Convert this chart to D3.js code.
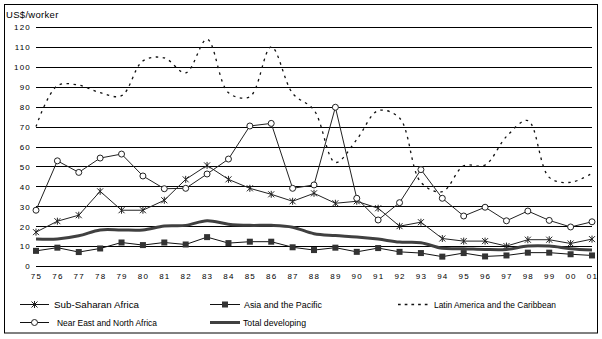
<!DOCTYPE html>
<html>
<head>
<meta charset="utf-8">
<script src="https://cdn.jsdelivr.net/npm/d3@7"></script>
<style>
  html, body { margin: 0; padding: 0; background: #fff; }
  svg { display: block; }
  text { font-family: "Liberation Sans", Arial, sans-serif; fill: #000; }
</style>
</head>
<body>
<svg id="chart" width="602" height="339"></svg>
<script>
// ---- data ----
const years = ["75","76","77","78","79","80","81","82","83","84","85","86","87","88","89","90","91","92","93","94","95","96","97","98","99","00","01"];
const subSaharan = [17,22.5,25.5,37.5,28,28,33,43.5,50.5,43.5,39,36,32.5,36.5,31.5,32.5,29,20,22,13.8,12.5,12.5,10,13.2,13.2,11.3,13.5];
const asiaPacific = [7.6,9.2,7,8.8,11.8,10.5,11.8,10.8,14.5,11.5,12.2,12.2,9.4,8,9.2,7.1,9,7.1,6.5,4.7,6.5,4.8,5.3,6.7,6.7,5.9,5.3];
const latinAmerica = [70,90.5,90.8,87,85.5,103,104.5,97,113.8,87,85,110,86.7,78.3,52,63.5,78,74.3,42,37.3,50.3,50.7,65,73,44.5,42,46.5];
const nearEast = [28,52.8,47,54.2,56.2,45.2,38.8,39,46.2,53.7,70.3,71.6,39,40.7,79.7,34,23.1,31.8,48.4,34,25.1,29.5,22.7,27.6,22.9,19.6,22.2];
const totalDev = [13.6,13.6,15.2,18.1,18.1,18.1,20.1,20.4,22.7,21,20.4,20.4,19.5,16.2,15.3,14.6,13.5,12,11.7,8.9,8.7,8.3,8.3,10,10,8.7,8];
const yTicks = [0,10,20,30,40,50,60,70,80,90,100,110,120];
const yTitle = "US$/worker";
const seriesNames = ["Sub-Saharan Africa","Asia and the Pacific","Latin America and the Caribbean","Near East and North Africa","Total developing"];

// ---- layout ----
const svg = d3.select("#chart");
const plotLeft = 36, plotRight = 592, plotTop = 27, plotBottom = 266;

svg.append("rect").attr("x", 4.5).attr("y", 4.5).attr("width", 593).attr("height", 328.5)
  .attr("fill", "#fff").attr("stroke", "#000").attr("stroke-width", 1);

const x = d3.scalePoint().domain(years).range([plotLeft, plotRight]);
const y = d3.scaleLinear().domain([0, 120]).range([plotBottom, plotTop]);

// gridlines
svg.append("g").selectAll("line").data(yTicks).join("line")
  .attr("x1", plotLeft).attr("x2", plotRight)
  .attr("y1", d => Math.round(y(d)) + 0.5).attr("y2", d => Math.round(y(d)) + 0.5)
  .attr("stroke", "#000").attr("stroke-width", 1);

// y axis labels
const yAxis = d3.axisLeft(y).tickValues(yTicks).tickSize(0).tickPadding(0);
const gy = svg.append("g").attr("transform", "translate(31,0)").call(yAxis);
gy.select(".domain").remove();
gy.selectAll("text").attr("font-size", 8).attr("letter-spacing", 1.2)
  .attr("font-family", "Liberation Sans, Arial, sans-serif").attr("fill", "#000").attr("dy", "0.36em");

// x axis labels
const xAxis = d3.axisBottom(x).tickSize(0).tickPadding(0);
const gx = svg.append("g").attr("transform", "translate(0,273)").call(xAxis);
gx.select(".domain").remove();
gx.selectAll("text").attr("font-size", 8).attr("letter-spacing", 1.2)
  .attr("font-family", "Liberation Sans, Arial, sans-serif").attr("fill", "#000");

svg.append("text").attr("x", 6).attr("y", 18).attr("font-size", 9.5).attr("letter-spacing", 0.3).text(yTitle);

// ---- marker shapes ----
function asterisk(g, cx, cy) {
  g.append("path").attr("d", `M${cx-3},${cy-3}L${cx+3},${cy+3}M${cx-3},${cy+3}L${cx+3},${cy-3}M${cx},${cy-3.5}L${cx},${cy+3.5}`)
    .attr("stroke", "#222").attr("stroke-width", 1).attr("fill", "none");
}
function square(g, cx, cy) {
  g.append("rect").attr("x", cx - 3).attr("y", cy - 3).attr("width", 6).attr("height", 6).attr("fill", "#333");
}
function circle(g, cx, cy) {
  g.append("circle").attr("cx", cx).attr("cy", cy).attr("r", 3).attr("fill", "#fff").attr("stroke", "#222").attr("stroke-width", 1);
}

const straight = d3.line().x((d, i) => x(years[i])).y(d => y(d));
const smooth = d3.line().x((d, i) => x(years[i])).y(d => y(d)).curve(d3.curveCatmullRom.alpha(0.5));

// Sub-Saharan Africa
const gS = svg.append("g");
gS.append("path").attr("d", straight(subSaharan)).attr("fill", "none").attr("stroke", "#222").attr("stroke-width", 1);
subSaharan.forEach((v, i) => asterisk(gS, x(years[i]), y(v)));

// Asia and the Pacific
const gA = svg.append("g");
gA.append("path").attr("d", straight(asiaPacific)).attr("fill", "none").attr("stroke", "#111").attr("stroke-width", 1);
asiaPacific.forEach((v, i) => square(gA, x(years[i]), y(v)));

// Latin America
svg.append("path").attr("d", smooth(latinAmerica)).attr("fill", "none").attr("stroke", "#111")
  .attr("stroke-width", 1.3).attr("stroke-dasharray", "2.5,4.5");

// Near East
const gN = svg.append("g");
gN.append("path").attr("d", straight(nearEast)).attr("fill", "none").attr("stroke", "#222").attr("stroke-width", 1);
nearEast.forEach((v, i) => circle(gN, x(years[i]), y(v)));

// Total developing
svg.append("path").attr("d", smooth(totalDev)).attr("fill", "none").attr("stroke", "#404040").attr("stroke-width", 3);

// ---- legend ----
const leg = svg.append("g");
const legendItems = [
  {name: seriesNames[0], x1: 20, x2: 49, y: 304.5, tx: 54, tw: 85, kind: "ast"},
  {name: seriesNames[1], x1: 210, x2: 240, y: 304.5, tx: 244, tw: 78, kind: "sq"},
  {name: seriesNames[2], x1: 398, x2: 431, y: 304.5, tx: 434, tw: 122, kind: "dash"},
  {name: seriesNames[3], x1: 20, x2: 49, y: 322.5, tx: 57, tw: 100, kind: "circ"},
  {name: seriesNames[4], x1: 210, x2: 240, y: 322.5, tx: 243, tw: 63, kind: "thick"}
];
legendItems.forEach(it => {
  const l = leg.append("line").attr("x1", it.x1).attr("x2", it.x2).attr("y1", it.y).attr("y2", it.y)
    .attr("stroke", it.kind === "thick" ? "#404040" : "#111")
    .attr("stroke-width", it.kind === "thick" ? 3 : (it.kind === "dash" ? 1.3 : 1));
  if (it.kind === "dash") l.attr("stroke-dasharray", "2.7,4");
  const cx = (it.x1 + it.x2) / 2;
  if (it.kind === "ast") asterisk(leg, cx, it.y);
  if (it.kind === "sq") square(leg, cx, it.y);
  if (it.kind === "circ") circle(leg, cx, it.y);
  leg.append("text").attr("x", it.tx).attr("y", it.y + 3).attr("font-size", 8.5)
    .attr("textLength", it.tw).attr("lengthAdjust", "spacingAndGlyphs").text(it.name);
});
</script>
</body>
</html>
